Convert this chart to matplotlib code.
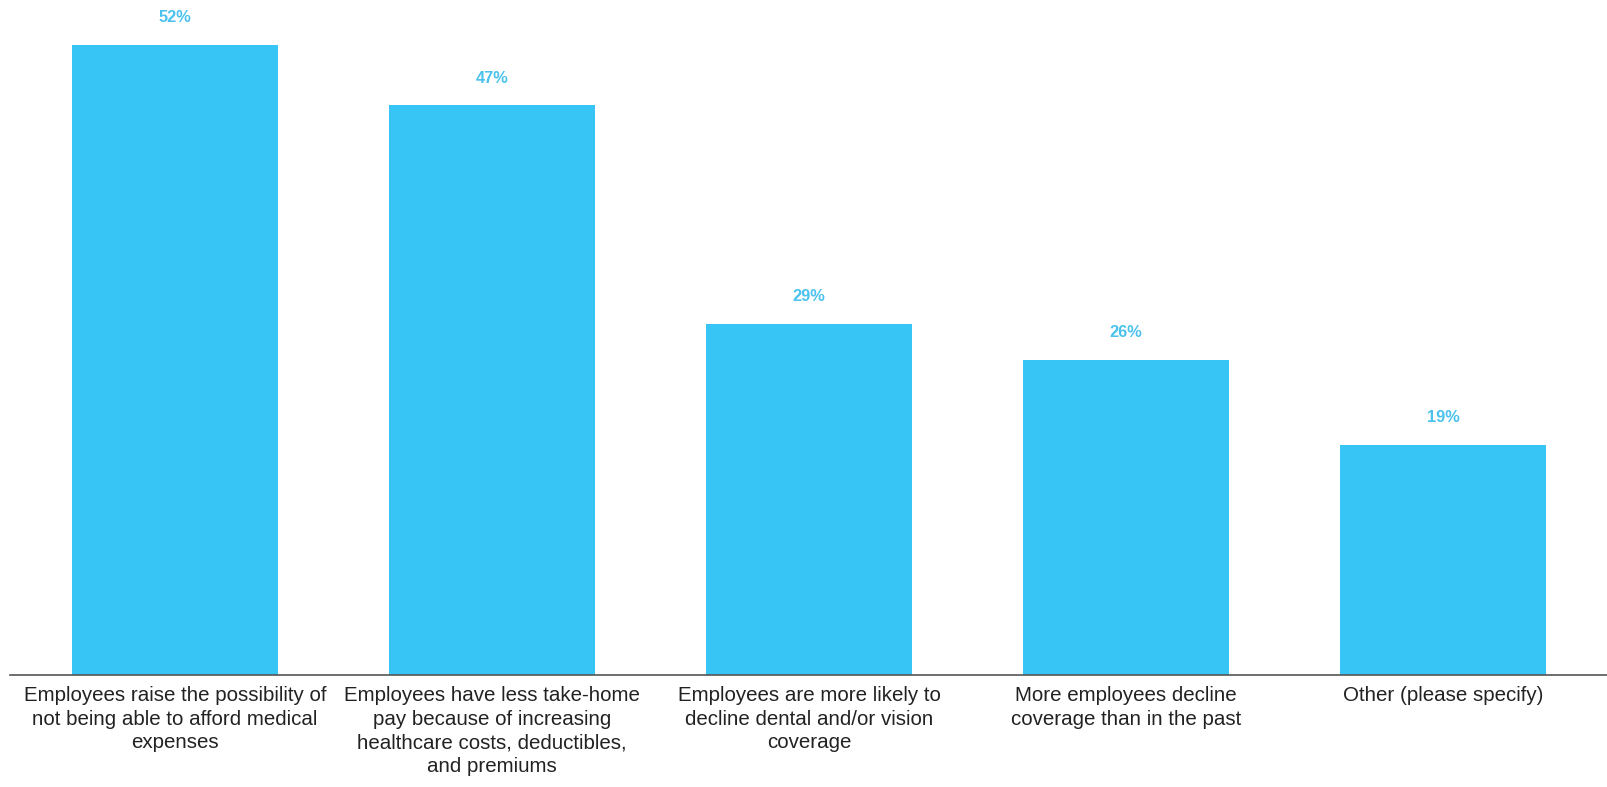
import matplotlib
matplotlib.use("Agg")
import matplotlib.pyplot as plt

categories = [
    "Employees raise the possibility of\nnot being able to afford medical\nexpenses",
    "Employees have less take-home\npay because of increasing\nhealthcare costs, deductibles,\nand premiums",
    "Employees are more likely to\ndecline dental and/or vision\ncoverage",
    "More employees decline\ncoverage than in the past",
    "Other (please specify)",
]
values = [52, 47, 29, 26, 19]
value_labels = ["52%", "47%", "29%", "26%", "19%"]

bar_color = "#36C5F4"
label_color = "#4BC2EE"

plt.rcParams['font.family'] = ['Liberation Sans', 'DejaVu Sans']

fig = plt.figure(figsize=(16.08, 7.87), dpi=100)
ax = fig.add_axes([10/1608, 112/787, 1598/1608, 675/787])

x = list(range(len(categories)))
ax.bar(x, values, width=0.65, color=bar_color, zorder=2)
ax.set_xlim(-0.52, len(categories) - 1 + 0.52)
ax.set_ylim(0, 675/12.12)

for xi, v, lab in zip(x, values, value_labels):
    ax.annotate(lab, (xi, v), xytext=(0, 27), textcoords="offset pixels",
                ha="center", va="center", fontsize=11.8, fontweight="bold",
                color=label_color)

ax.set_xticks(x)
ax.set_xticklabels(categories, fontsize=14.8, color="#222222", linespacing=1.30)
ax.tick_params(axis="x", length=0, pad=8)
ax.set_yticks([])
for s in ["top", "right", "left"]:
    ax.spines[s].set_visible(False)
ax.spines["bottom"].set_color("#555555")
ax.spines["bottom"].set_linewidth(1.2)

fig.savefig("out.png", dpi=100)
